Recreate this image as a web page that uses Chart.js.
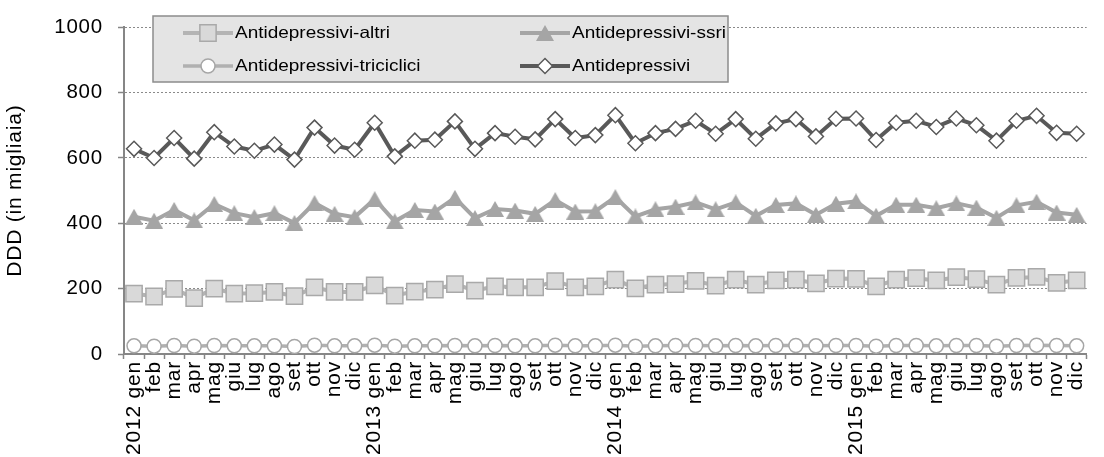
<!DOCTYPE html>
<html>
<head>
<meta charset="utf-8">
<script src="https://cdn.jsdelivr.net/npm/chart.js@4/dist/chart.umd.min.js"></script>
<style>
  html, body { margin: 0; padding: 0; background: #ffffff; }
  #wrap { width: 1104px; height: 457px; }
</style>
</head>
<body>
<div id="wrap"><canvas id="c" width="1104" height="457"></canvas></div>
<script>
// Monthly DDD (thousands), Jan 2012 - Dec 2015
const years = ['2012', '2013', '2014', '2015'];
const months = ['gen', 'feb', 'mar', 'apr', 'mag', 'giu', 'lug', 'ago', 'set', 'ott', 'nov', 'dic'];
const categories = years.flatMap(y => months.map((m, i) => (i === 0 ? y + ' ' + m : m)));

const altri = [
  185, 176, 199, 171, 200, 185, 186, 190, 177, 204, 190, 190,
  210, 179, 191, 197, 214, 194, 207, 204, 204, 223, 204, 207,
  228, 201, 212, 214, 224, 209, 228, 212, 225, 228, 216, 231,
  230, 207, 228, 232, 225, 235, 229, 212, 233, 236, 218, 225
];
const ssri = [
  420, 408, 441, 409, 459, 431, 419, 431, 401, 462, 429, 419,
  474, 406, 441, 436, 478, 416, 444, 439, 429, 471, 436, 437,
  480, 421, 443, 451, 464, 443, 464, 423, 456, 461, 426, 460,
  467, 423, 457, 457, 446, 461, 448, 417, 455, 466, 433, 426
];
const triciclici = [
  25, 24, 26, 24, 26, 25, 25, 25, 23, 27, 25, 25,
  27, 24, 25, 25, 26, 25, 26, 25, 25, 27, 25, 25,
  27, 24, 25, 26, 26, 25, 26, 25, 26, 26, 25, 26,
  26, 24, 26, 26, 25, 26, 26, 24, 26, 27, 26, 25
];
const totale = [
  628, 600, 661, 598, 679, 635, 622, 641, 595, 693, 638, 625,
  708, 605, 653, 656, 712, 628, 676, 665, 657, 719, 661, 670,
  731, 645, 676, 689, 714, 674, 719, 659, 706, 719, 666, 720,
  721, 655, 708, 714, 695, 721, 700, 653, 714, 729, 677, 674
];
const yTicks = [0, 200, 400, 600, 800, 1000];

const FONT = "'Liberation Sans', Arial, sans-serif";
const AXIS_GREY = '#868686';
const TEXT_SPACING = '0.8px';

// filled triangle marker centred on its bounding box
const tri = document.createElement('canvas');
tri.width = 18; tri.height = 16;
(function () {
  const t = tri.getContext('2d');
  t.fillStyle = '#a5a5a5';
  t.beginPath();
  t.moveTo(0, 16); t.lineTo(9, 0); t.lineTo(18, 16);
  t.closePath();
  t.fill();
})();

const datasets = [
  {
    label: 'Antidepressivi-altri', data: altri,
    borderColor: '#b4b4b4', borderWidth: 4,
    pointStyle: 'rect', pointRadius: 11.5,
    pointBackgroundColor: '#d9d9d9', pointBorderColor: '#a9a9a9', pointBorderWidth: 1.5
  },
  {
    label: 'Antidepressivi-ssri', data: ssri,
    borderColor: '#a5a5a5', borderWidth: 4,
    pointStyle: tri, pointRadius: 9,
    pointBackgroundColor: '#a5a5a5', pointBorderColor: '#a5a5a5', pointBorderWidth: 0
  },
  {
    label: 'Antidepressivi-triciclici', data: triciclici,
    borderColor: '#b0b0b0', borderWidth: 3.5,
    pointStyle: 'circle', pointRadius: 7,
    pointBackgroundColor: '#ffffff', pointBorderColor: '#a6a6a6', pointBorderWidth: 1.5
  },
  {
    label: 'Antidepressivi', data: totale,
    borderColor: '#595959', borderWidth: 4,
    pointStyle: 'rectRot', pointRadius: 7.5,
    pointBackgroundColor: '#ffffff', pointBorderColor: '#595959', pointBorderWidth: 1.5
  }
];

// slightly tracked-out text for axis labels and titles
const textSpacing = {
  id: 'textSpacing',
  beforeLayout(chart) { chart.ctx.letterSpacing = TEXT_SPACING; },
  beforeDraw(chart) { chart.ctx.letterSpacing = TEXT_SPACING; }
};

// Boxed two-column legend drawn over the plot
const boxLegend = {
  id: 'boxLegend',
  afterDraw(chart) {
    const ctx = chart.ctx;
    const box = { x: 153, y: 16, w: 575, h: 66 };
    const slots = [
      { ds: 0, x: 183, y: 33 },
      { ds: 1, x: 520, y: 33 },
      { ds: 2, x: 183, y: 66 },
      { ds: 3, x: 520, y: 66 }
    ];
    ctx.save();
    ctx.letterSpacing = '0px';
    ctx.fillStyle = '#e4e4e4';
    ctx.fillRect(box.x, box.y, box.w, box.h);
    ctx.strokeStyle = '#8c8c8c';
    ctx.lineWidth = 1.5;
    ctx.strokeRect(box.x, box.y, box.w, box.h);
    slots.forEach(s => {
      const d = chart.data.datasets[s.ds];
      ctx.strokeStyle = d.borderColor;
      ctx.lineWidth = d.borderWidth;
      ctx.beginPath();
      ctx.moveTo(s.x, s.y);
      ctx.lineTo(s.x + 50, s.y);
      ctx.stroke();
      ctx.fillStyle = d.pointBackgroundColor;
      ctx.strokeStyle = d.pointBorderColor;
      ctx.lineWidth = d.pointBorderWidth;
      Chart.helpers.drawPoint(ctx, {
        pointStyle: d.pointStyle, radius: d.pointRadius,
        rotation: 0, borderWidth: d.pointBorderWidth
      }, s.x + 25, s.y);
      // legend lettering is set slightly wide
      ctx.save();
      ctx.translate(s.x + 52, s.y);
      ctx.scale(1.15, 1);
      ctx.font = '16.5px ' + FONT;
      ctx.textBaseline = 'middle';
      ctx.textAlign = 'left';
      ctx.fillStyle = '#000000';
      ctx.fillText(d.label, 0, 0);
      ctx.restore();
    });
    ctx.restore();
  }
};

new Chart(document.getElementById('c'), {
  type: 'line',
  data: { labels: categories, datasets },
  options: {
    responsive: false,
    animation: false,
    devicePixelRatio: 1,
    layout: { padding: { top: 24, right: 3, left: 0, bottom: 0 } },
    elements: { line: { tension: 0 } },
    plugins: { legend: { display: false }, tooltip: { enabled: false } },
    scales: {
      x: {
        offset: true,
        grid: {
          offset: true, drawOnChartArea: false, drawTicks: true,
          tickLength: 5, tickColor: AXIS_GREY, tickWidth: 1.5
        },
        border: { color: AXIS_GREY, width: 2 },
        ticks: {
          autoSkip: false, minRotation: 90, maxRotation: 90, padding: 2,
          color: '#000000', font: { family: FONT, size: 21 }
        },
        afterFit(scale) { scale.height = 103; }
      },
      y: {
        min: 0, max: 1000,
        afterBuildTicks(scale) { scale.ticks = yTicks.map(v => ({ value: v })); },
        ticks: {
          padding: 15, color: '#000000', font: { family: FONT, size: 20.5 },
          callback: v => String(v)
        },
        grid: {
          color: '#8a8a8a', lineWidth: 1, drawTicks: true,
          tickLength: 6, tickColor: AXIS_GREY, tickWidth: 1.5
        },
        border: { display: true, color: AXIS_GREY, width: 2, dash: [2, 2] },
        title: {
          display: true, text: 'DDD (in migliaia)', color: '#000000',
          font: { family: FONT, size: 21 }, padding: { top: 3, bottom: 0 }
        },
        afterFit(scale) { scale.width = 124; }
      }
    }
  },
  plugins: [textSpacing, boxLegend]
});
</script>
</body>
</html>
